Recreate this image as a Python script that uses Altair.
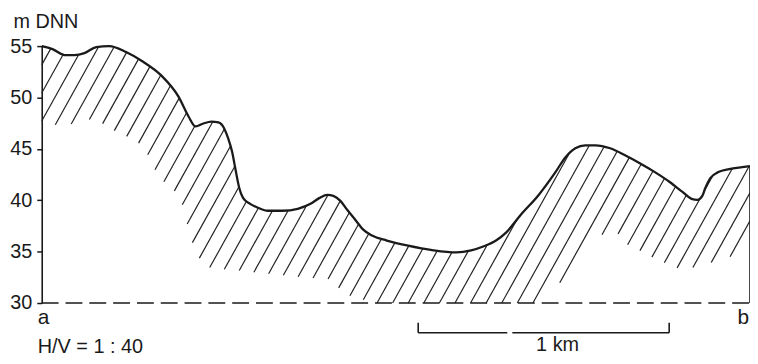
import altair as alt
import numpy as np
import pandas as pd

# ---- profile (top of hatched band): distance in km, height in m DNN
top_x = [0.000, 0.043, 0.091, 0.130, 0.170, 0.217, 0.269, 0.336, 0.399, 0.478,
         0.545, 0.585, 0.613, 0.644, 0.676, 0.704, 0.727, 0.743, 0.759, 0.771,
         0.787, 0.802, 0.830, 0.862, 0.901, 0.960, 1.020, 1.071, 1.107, 1.138,
         1.162, 1.190, 1.217, 1.249, 1.281, 1.316, 1.375, 1.455, 1.561, 1.652,
         1.711, 1.759, 1.810, 1.850, 1.909, 1.980, 2.047, 2.087, 2.126, 2.166,
         2.206, 2.265, 2.324, 2.383, 2.443, 2.502, 2.553, 2.589, 2.613, 2.632,
         2.644, 2.664, 2.696, 2.739, 2.791, 2.822]
top_y = [55.00, 54.71, 54.13, 54.13, 54.32, 54.90, 55.00, 54.42, 53.55, 52.10,
         50.08, 48.15, 47.18, 47.47, 47.66, 47.57, 46.99, 46.02, 44.67, 43.13,
         41.20, 40.23, 39.65, 39.27, 38.98, 38.98, 39.17, 39.65, 40.23, 40.52,
         40.42, 39.94, 39.07, 38.11, 37.14, 36.56, 36.08, 35.60, 35.12, 34.92,
         35.12, 35.50, 36.08, 36.85, 38.59, 40.52, 42.74, 44.19, 45.06, 45.35,
         45.35, 45.06, 44.38, 43.61, 42.74, 41.78, 40.81, 40.14, 40.04, 40.42,
         41.20, 42.16, 42.74, 43.03, 43.22, 43.32]

# ---- lower limit of the hatched band
bot_x = [0.000, 0.071, 0.138, 0.202, 0.257, 0.300, 0.348, 0.387, 0.419, 0.447,
         0.478, 0.526, 0.557, 0.573, 0.593, 0.617, 0.652, 0.692, 0.743, 0.810,
         0.921, 1.040, 1.150, 1.206, 1.324, 1.957, 2.071, 2.221, 2.292, 2.332,
         2.375, 2.423, 2.470, 2.514, 2.569, 2.640, 2.719, 2.791, 2.822]
bot_y = [47.57, 47.28, 47.47, 47.95, 47.28, 46.60, 46.12, 45.54, 44.58, 43.13,
         41.97, 41.00, 39.85, 38.30, 36.37, 34.73, 33.57, 33.28, 33.28, 33.09,
         32.80, 32.51, 32.32, 30.87, 30.00, 30.00, 32.10, 36.60, 36.85, 35.69,
         35.21, 34.54, 34.05, 33.47, 33.28, 33.76, 34.25, 35.02, 35.31]

y_ticks = [30, 35, 40, 45, 50, 55]
x_end = 2.822
base_level = 30
scale_bar_km = [1.5, 2.5]
scale_bar_gap = [1.855, 1.875]

# ---- hatch lines clipped to the band (geometry derived from the arrays)
hatch_slope = 43.96      # m per km (about 61 degrees on screen)
hatch_step = 0.0621      # km between lines
hatch_phase = 1.336      # km, where one line meets the base level
ys = np.linspace(base_level, 55.5, 3000)
segs = []
k_lo = int(np.floor((-0.7 - hatch_phase) / hatch_step))
k_hi = int(np.ceil((x_end + 0.1 - hatch_phase) / hatch_step))
for k in range(k_lo, k_hi + 1):
    xs = hatch_phase + k * hatch_step + (ys - base_level) / hatch_slope
    tp = np.interp(xs, top_x, top_y)
    bt = np.interp(xs, bot_x, bot_y)
    inside = (xs >= 0) & (xs <= x_end) & (ys >= bt) & (ys <= tp)
    idx = np.flatnonzero(inside)
    if idx.size < 2:
        continue
    breaks = np.flatnonzero(np.diff(idx) > 1)
    starts = np.concatenate([[idx[0]], idx[breaks + 1]])
    ends = np.concatenate([idx[breaks], [idx[-1]]])
    for s, e in zip(starts, ends):
        if e - s >= 3:
            segs.append({"x": xs[s], "y": ys[s], "x2": xs[e], "y2": ys[e]})
hatch_df = pd.DataFrame(segs)
prof_df = pd.DataFrame({"x": top_x, "y": top_y})

FONT = "Liberation Sans"
INK = "#1a1a1a"
X = alt.Scale(domain=[0, x_end], nice=False, zero=False)
Y = alt.Scale(domain=[30, 55], nice=False, zero=False)

yaxis = alt.Axis(values=y_ticks, title="m DNN", titleAngle=0, titleX=-29, titleY=-19,
                 titleAlign="left", titleBaseline="alphabetic", titleFont=FONT,
                 titleFontSize=20, titleFontWeight="normal", titleColor=INK,
                 labelFont=FONT, labelFontSize=20, labelColor=INK, labelPadding=5,
                 tickSize=5, tickWidth=1.5, tickColor=INK, domainColor=INK,
                 domainWidth=1.6, grid=False)

hatch = alt.Chart(hatch_df).mark_rule(color="#222222", strokeWidth=1.2).encode(
    x=alt.X("x:Q", scale=X, axis=None),
    y=alt.Y("y:Q", scale=Y, axis=yaxis),
    x2="x2:Q", y2="y2:Q")

profile = alt.Chart(prof_df).mark_line(color=INK, strokeWidth=2.3, interpolate="monotone").encode(
    x=alt.X("x:Q", scale=X, axis=None), y=alt.Y("y:Q", scale=Y, axis=yaxis))

baseline = alt.Chart(pd.DataFrame({"x": [0], "x2": [x_end], "y": [base_level]})).mark_rule(
    color=INK, strokeWidth=1.6, strokeDash=[17, 7]).encode(
    x=alt.X("x:Q", scale=X, axis=None), x2="x2:Q", y=alt.Y("y:Q", scale=Y, axis=yaxis))

right_edge = alt.Chart(pd.DataFrame({"x": [x_end], "y": [base_level], "y2": [top_y[-1]]})).mark_rule(
    color=INK, strokeWidth=1.6).encode(
    x=alt.X("x:Q", scale=X, axis=None), y=alt.Y("y:Q", scale=Y, axis=yaxis), y2="y2:Q")

bar_df = pd.DataFrame({"x": [scale_bar_km[0], scale_bar_gap[1]],
                       "x2": [scale_bar_gap[0], scale_bar_km[1]]})
bar = alt.Chart(bar_df).mark_rule(color=INK, strokeWidth=1.6).encode(
    x=alt.X("x:Q", scale=X, axis=None), x2="x2:Q", y=alt.value(289))
bar_ticks = alt.Chart(pd.DataFrame({"x": scale_bar_km})).mark_rule(color=INK, strokeWidth=1.6).encode(
    x=alt.X("x:Q", scale=X, axis=None), y=alt.value(279), y2=alt.value(289))

txt_df = pd.DataFrame({"x": [0, x_end], "t": ["a", "b"]})
ends_a = alt.Chart(txt_df.iloc[[0]]).mark_text(font=FONT, fontSize=21, color=INK, align="left",
                                             baseline="alphabetic", dx=-4).encode(
    x=alt.X("x:Q", scale=X, axis=None), y=alt.value(280), text="t:N")
ends_b = alt.Chart(txt_df.iloc[[1]]).mark_text(font=FONT, fontSize=21, color=INK, align="right",
                                             baseline="alphabetic", dx=-1).encode(
    x=alt.X("x:Q", scale=X, axis=None), y=alt.value(280), text="t:N")
km_label = alt.Chart(pd.DataFrame({"x": [sum(scale_bar_km) / 2], "t": ["1 km"]})).mark_text(
    font=FONT, fontSize=20, color=INK, align="center", baseline="alphabetic", dx=14).encode(
    x=alt.X("x:Q", scale=X, axis=None), y=alt.value(307), text="t:N")
hv_label = alt.Chart(pd.DataFrame({"t": ["H/V = 1 : 40"]})).mark_text(
    font=FONT, fontSize=20, color=INK, align="left", baseline="alphabetic").encode(
    x=alt.value(-4), y=alt.value(309), text="t:N")

chart = alt.layer(hatch, profile, baseline, right_edge, bar, bar_ticks,
                  ends_a, ends_b, km_label, hv_label).properties(
    width=714, height=259,
    background="white",
    autosize=alt.AutoSizeParams(type="none"),
    padding={"left": 34, "top": 37, "right": 0, "bottom": 52},
).configure_view(stroke=None, strokeWidth=0)

chart.save("out.html", embed_options={"renderer": "svg", "actions": False})
